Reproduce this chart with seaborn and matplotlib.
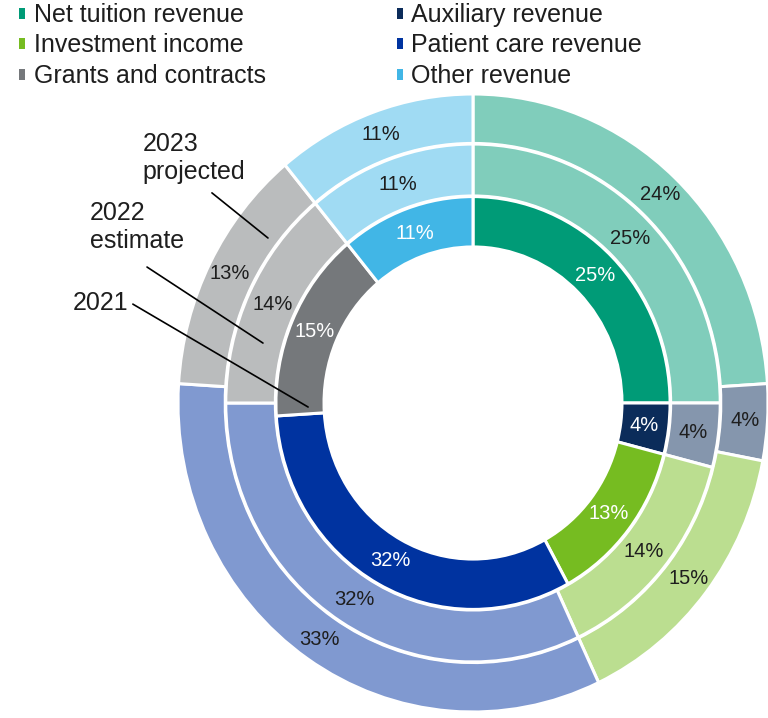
import matplotlib
matplotlib.use("Agg")
import matplotlib.pyplot as plt
import seaborn as sns
from matplotlib.patches import Patch

# Revenue mix by source (percent of total), one ring per year
categories = ["Net tuition revenue", "Auxiliary revenue", "Investment income",
              "Patient care revenue", "Grants and contracts", "Other revenue"]
share_2021 = [25, 4, 13, 32, 15, 11]
share_2022 = [25, 4, 14, 32, 14, 11]
share_2023 = [24, 4, 15, 33, 13, 11]
ring_names = ["2023\nprojected", "2022\nestimate", "2021"]

base_colors = ["#009B77", "#0B2C5A", "#76BC21", "#0033A0", "#75787B", "#41B6E6"]

sns.set_theme(style="white")
plt.rcParams["font.family"] = ["Liberation Sans", "DejaVu Sans"]

# Outer rings use a half-tint of each base colour
light_colors = [sns.blend_palette([c, "#ffffff"], 3)[1] for c in base_colors]

W, H = 768, 718
fig = plt.figure(figsize=(W / 100, H / 100), dpi=100)
ax = fig.add_axes([178 / W, (H - 712) / H, 590 / W, 618 / H])

dark_text = "#1e1e1e"
rings = [
    (share_2023, 1.0, 0.16, light_colors, dark_text, 0.925),
    (share_2022, 0.838, 0.168, light_colors, dark_text, 0.897),
    (share_2021, 0.668, 0.163, base_colors, "white", 0.873),
]
for values, radius, width, colors, tcolor, pdist in rings:
    ax.pie(values, radius=radius, colors=colors, startangle=90,
           counterclock=False,
           wedgeprops=dict(width=width, edgecolor="white", linewidth=2.2),
           autopct=lambda p: f"{p:.0f}%", pctdistance=pdist,
           textprops=dict(color=tcolor, fontsize=14.5))

ax.set_aspect("auto")
ax.set_xlim(-1, 1)
ax.set_ylim(-1, 1)
ax.axis("off")

# Ring callouts: (text, text anchor, leader start, leader end)
callouts = [
    (ring_names[0], (-1.119, 0.793), (-0.885, 0.680), (-0.695, 0.534)),
    (ring_names[1], (-1.298, 0.570), (-1.105, 0.440), (-0.712, 0.194)),
    (ring_names[2], (-1.356, 0.324), (-1.153, 0.320), (-0.559, -0.013)),
]
for text, tpos, start, end in callouts:
    ax.text(tpos[0], tpos[1], text, ha="left", va="center", fontsize=18,
            color=dark_text, clip_on=False)
    ax.annotate("", xy=end, xytext=start, annotation_clip=False,
                arrowprops=dict(arrowstyle="-", color="black", lw=1.2,
                                shrinkA=0, shrinkB=0))

handles = [Patch(facecolor=c, edgecolor="none") for c in base_colors]
order = [0, 2, 4, 1, 3, 5]
fig.legend([handles[i] for i in order], [categories[i] for i in order],
           ncol=2, loc="upper left", bbox_to_anchor=(19 / W, 1.0 - 3 / H),
           frameon=False, fontsize=18, labelcolor=dark_text,
           handlelength=0.25, handleheight=0.3, handletextpad=0.33,
           columnspacing=5.25, labelspacing=0.26, borderpad=0,
           borderaxespad=0)

fig.savefig("out.png", dpi=100)
